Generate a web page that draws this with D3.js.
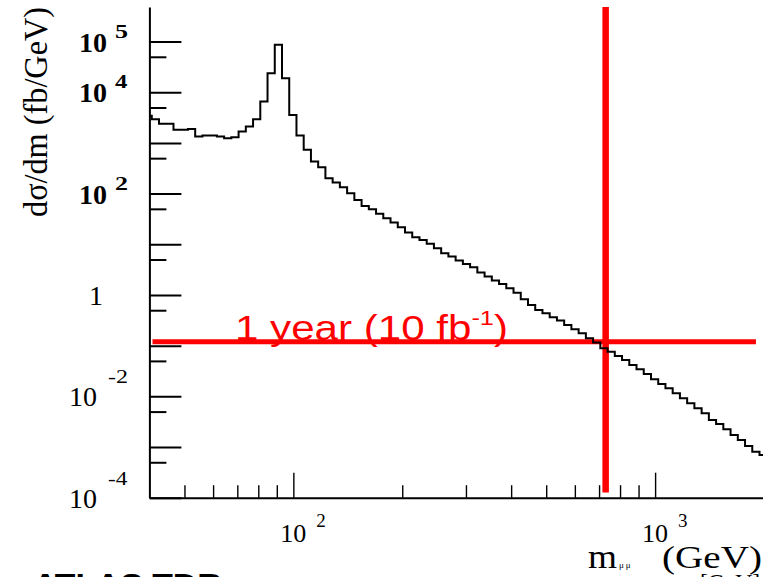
<!DOCTYPE html>
<html>
<head>
<meta charset="utf-8">
<script src="https://cdn.jsdelivr.net/npm/d3@7/dist/d3.min.js"></script>
<style>
  html, body { margin: 0; padding: 0; background: #fff; overflow: hidden; }
  svg { display: block; }
</style>
</head>
<body>
<svg id="chart" width="763" height="577"></svg>
<script>
// Drell-Yan dimuon spectrum dσ/dm (fb/GeV), histogram with 50 log-spaced bins per decade
const binLowEdge = 38.78;      // GeV, lower edge of the first bin
const binsPerDecade = 50;
const dSigmaDm = [
  3420, 2940, 2380, 2380, 1810, 1810, 1890, 1330, 1400, 1400,
  1330, 1240, 1300, 1670, 2100, 2940, 6540, 23800, 86100, 18900,
  3570, 1400, 729, 429, 332, 201, 165, 134, 102, 75.1,
  57.2, 49.2, 39.8, 32.7, 26.8, 21.7, 17.0, 13.8, 12.2, 10.2,
  8.37, 6.67, 5.71, 4.76, 4.10, 3.53, 2.76, 2.30, 1.92, 1.65,
  1.36, 1.11, 0.82, 0.637, 0.507, 0.436, 0.364, 0.312, 0.256, 0.211,
  0.176, 0.140, 0.115, 0.0889, 0.0762, 0.0627, 0.0522, 0.0416, 0.0342, 0.0277,
  0.0217, 0.0175, 0.0144, 0.0115, 0.00917, 0.00731, 0.00582, 0.00464, 0.00342, 0.00285,
  0.00224, 0.00173, 0.00138, 0.00105, 0.00081, 0.000697
];

// axis ranges
const massDomain = [40, 2000];
const sigmaDomain = [1e-4, 4.8e5];

// ticks and labels
const xMajorTicks = [100, 1000];
const xMinorTicks = [50, 60, 70, 80, 90, 200, 300, 400, 500, 600, 700, 800, 900];
const yMajorTicks = [1e-4, 1e-3, 1e-2, 1e-1, 1, 10, 100, 1e3, 1e4, 1e5];
const yMinorTicks = [5e-4, 5e-3, 5e-2, 5e-1, 5, 50, 500, 5e3, 5e4];
const xLabelValues = [100, 1000];
const yLabelValues = [1e5, 1e4, 1e2, 1, 1e-2, 1e-4];

// one-year reach (10 fb^-1) and the corresponding mass limit
const yearLevel = 0.12;          // fb/GeV
const yearLineMass = [40.8, 1900];
const massLimit = 730;           // GeV
const massLimitBottom = 1.26e-4; // fb/GeV

const svg = d3.select("#chart");
const plotLeft = 149.4, plotRight = 764, plotTop = 7, plotBottom = 497.7;

const x = d3.scaleLog().domain(massDomain).range([plotLeft, plotRight]);
const y = d3.scaleLog().domain(sigmaDomain).range([plotBottom, plotTop]);

svg.append("rect").attr("width", 763).attr("height", 577).attr("fill", "#fff");

svg.append("defs").append("clipPath").attr("id", "plot-clip")
  .append("rect").attr("x", plotLeft).attr("y", plotTop)
  .attr("width", plotRight - plotLeft).attr("height", plotBottom - plotTop);

// red reach lines
const red = svg.append("g").attr("clip-path", "url(#plot-clip)");
red.append("line")
  .attr("x1", x(yearLineMass[0])).attr("x2", x(yearLineMass[1]))
  .attr("y1", y(yearLevel)).attr("y2", y(yearLevel))
  .attr("stroke", "#ff0000").attr("stroke-width", 5);
red.append("line")
  .attr("x1", x(massLimit)).attr("x2", x(massLimit))
  .attr("y1", y(massLimitBottom)).attr("y2", plotTop)
  .attr("stroke", "#ff0000").attr("stroke-width", 6.5);

// histogram as a step line
const edges = d3.range(dSigmaDm.length + 1).map(i => binLowEdge * Math.pow(10, i / binsPerDecade));
const pts = dSigmaDm.map((v, i) => [edges[i], v]);
pts.push([edges[dSigmaDm.length], dSigmaDm[dSigmaDm.length - 1]]);
const stepLine = d3.line().x(d => x(d[0])).y(d => y(d[1])).curve(d3.curveStepAfter);
svg.append("path")
  .attr("clip-path", "url(#plot-clip)")
  .attr("d", stepLine(pts))
  .attr("fill", "none").attr("stroke", "#000").attr("stroke-width", 2)
  .attr("stroke-linejoin", "miter");

// axes with inward ticks
function styleAxis(g, width, hideDomain) {
  g.selectAll("path.domain").attr("stroke", "#000").attr("stroke-width", 2)
    .attr("display", hideDomain ? "none" : null);
  g.selectAll(".tick line").attr("stroke", "#000").attr("stroke-width", width);
}
svg.append("g").attr("transform", `translate(${plotLeft},0)`)
  .call(d3.axisLeft(y).tickValues(yMinorTicks).tickSize(-17).tickSizeOuter(0).tickFormat(""))
  .call(g => styleAxis(g, 2, true));
svg.append("g").attr("transform", `translate(${plotLeft},0)`)
  .call(d3.axisLeft(y).tickValues(yMajorTicks).tickSize(-32).tickSizeOuter(0).tickFormat(""))
  .call(g => styleAxis(g, 2, false));
svg.append("g").attr("transform", `translate(0,${plotBottom})`)
  .call(d3.axisBottom(x).tickValues(xMinorTicks).tickSize(-12.5).tickSizeOuter(0).tickFormat(""))
  .call(g => styleAxis(g, 1.4, true));
svg.append("g").attr("transform", `translate(0,${plotBottom})`)
  .call(d3.axisBottom(x).tickValues(xMajorTicks).tickSize(-25).tickSizeOuter(0).tickFormat(""))
  .call(g => styleAxis(g, 1.4, false));

const serif = "'Liberation Serif', 'Times New Roman', serif";
const sans = "'Liberation Sans', Arial, sans-serif";

function fitWidth(sel, w) {
  const bb = sel.node().getBBox();
  const s = w / bb.width;
  sel.attr("transform", `translate(${bb.x},0) scale(${s},1) translate(${-bb.x},0)`);
}

// y tick labels: mantissa "10" with a raised exponent, right-aligned
yLabelValues.forEach(v => {
  const e = Math.round(Math.log10(v));
  const ty = y(v);
  if (e === 0) {
    svg.append("text").attr("x", 103).attr("y", ty + 10).attr("text-anchor", "end")
      .attr("font-family", serif).attr("font-size", 28).text("1");
    return;
  }
  const bold = e >= 2 ? "bold" : "normal";
  const supW = e > 0 ? 13 : 20;
  const sup = svg.append("text").attr("x", 128 - supW).attr("y", ty + (e > 0 ? -4 : -13))
    .attr("font-family", serif).attr("font-size", 19)
    .attr("font-weight", bold).text(String(e));
  fitWidth(sup, supW);
  svg.append("text").attr("x", 128 - supW - (e > 0 ? 8 : 11)).attr("y", ty + 10)
    .attr("text-anchor", "end").attr("font-family", serif).attr("font-size", 28)
    .attr("font-weight", bold).text("10");
});

// x tick labels
xLabelValues.forEach(v => {
  const e = Math.round(Math.log10(v));
  const tx = x(v);
  svg.append("text").attr("x", tx).attr("y", 542).attr("text-anchor", "middle")
    .attr("font-family", serif).attr("font-size", 26).text("10");
  svg.append("text").attr("x", tx + 23).attr("y", 527)
    .attr("font-family", serif).attr("font-size", 19).text(String(e));
});

// y axis title
svg.append("text")
  .attr("transform", "translate(47,112) rotate(-90)")
  .attr("text-anchor", "middle")
  .attr("font-family", serif).attr("font-size", 33)
  .attr("textLength", 210).attr("lengthAdjust", "spacingAndGlyphs")
  .text("dσ/dm (fb/GeV)");

// x axis title
svg.append("text").attr("x", 588).attr("y", 568)
  .attr("font-family", serif).attr("font-size", 34).text("m")
  .call(s => fitWidth(s, 29));
svg.append("text").attr("x", 619).attr("y", 568)
  .attr("font-family", serif).attr("font-size", 9).attr("letter-spacing", 2).text("μμ");
svg.append("text").attr("x", 662).attr("y", 568)
  .attr("font-family", serif).attr("font-size", 31).text("(GeV)")
  .call(s => fitWidth(s, 100));
svg.append("text").attr("x", 700).attr("y", 590)
  .attr("font-family", serif).attr("font-size", 24).text("[GeV]")
  .call(s => fitWidth(s, 60));

// experiment tag along the bottom edge
svg.append("text").attr("x", 33).attr("y", 594)
  .attr("font-family", sans).attr("font-weight", "bold").attr("font-size", 30)
  .text("ATLAS TDR")
  .call(s => fitWidth(s, 189));

// reach label
const lbl = svg.append("text").attr("x", 235).attr("y", 340)
  .attr("font-family", sans).attr("font-size", 35).attr("fill", "#ff0000");
lbl.append("tspan").text("1 year (10 fb");
lbl.append("tspan").attr("font-size", 21).attr("dy", -15).text("-1");
lbl.append("tspan").attr("dy", 15).text(")");
fitWidth(lbl, 273);
</script>
</body>
</html>
